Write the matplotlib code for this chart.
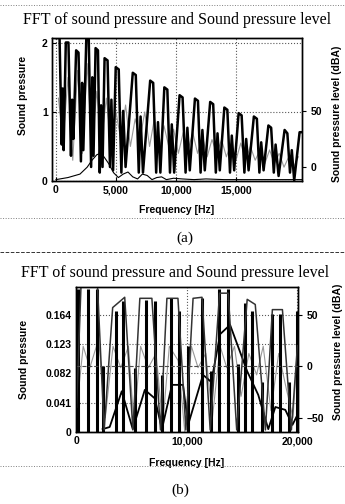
import matplotlib
matplotlib.use("Agg")
import matplotlib.pyplot as plt
from matplotlib.lines import Line2D

# ---------------- panel (a) ----------------
# sound pressure level humps (right axis, dBA)
spl_a_freq = [0, 300, 480, 560, 640, 820, 1040, 1250, 1350, 1450,
              1680, 1880, 2080, 2180, 2280, 2530, 2730, 2930, 3030, 3130,
              3300, 3500, 3650, 3760, 3880, 4050, 4300, 4500, 4620, 4760,
              4980, 5230, 5450, 5600, 5800, 6400, 6650, 6900, 7050, 7250,
              7850, 8100, 8350, 8500, 8700, 9030, 9280, 9500, 9650, 9850,
              10300, 10550, 10800, 10950, 11150, 11580, 11830, 12050, 12200, 12400,
              12850, 13100, 13320, 13460, 13650, 14030, 14280, 14500, 14650, 14850,
              15220, 15470, 15700, 15850, 16050, 16490, 16740, 16950, 17100, 17300,
              17700, 17930, 18150, 18300, 18550, 19050, 19280, 19500, 19650, 19850,
              20300, 20600]
spl_a_db = [115, 115, 20, 70, 15, 111, 111, 10, 60, 25,
            104, 102, 5, 75, 15, 115, 115, 0, 80, 10,
            106, 104, -5, 55, 0, 97, 95, 0, 60, -3,
            89, 87, -5, 50, 0, 84, 82, -5, 45, -5,
            77, 75, -5, 40, -5, 71, 69, -5, 38, -5,
            64, 62, -5, 35, -3, 61, 59, -5, 33, -3,
            58, 56, -5, 30, -3, 53, 51, -5, 28, -3,
            48, 46, -5, 25, -3, 45, 43, -5, 22, -3,
            37, 35, -5, 20, -8, 33, 30, -5, 15, -12,
            31, 31]

# inner fft trace (left axis)
gray_a_freq = [200, 600, 1000, 1400, 1800, 2200, 2600, 3000, 3400, 3800,
               4200, 4600, 5000, 5400, 5800, 6200, 6600, 7000, 7400, 7800,
               8200, 8600, 9000, 9400, 9800, 10200, 10600, 11000, 11400, 11800,
               12200, 12600, 13000, 13400, 13800, 14200, 14600, 15000, 15400, 15800,
               16200, 16600, 17000, 17400, 17800, 18200, 18600, 19000, 19400, 19800,
               20200]
gray_a_p = [1.2, 0.6, 1.5, 0.3, 1.6, 0.4, 1.7, 0.5, 1.3, 0.6,
            1.2, 0.5, 1.0, 0.6, 1.1, 0.5, 0.9, 0.6, 1.0, 0.5,
            0.9, 0.45, 0.8, 0.5, 0.75, 0.4, 0.7, 0.45, 0.7, 0.4,
            0.65, 0.35, 0.6, 0.4, 0.6, 0.35, 0.55, 0.3, 0.55, 0.3,
            0.5, 0.3, 0.45, 0.25, 0.45, 0.25, 0.4, 0.2, 0.35, 0.2,
            0.35]

# low decaying curve (left axis)
low_a_freq = [0, 1000, 2000, 2600, 3000, 3400, 3700, 4000, 4400, 4800,
              5200, 5600, 6000, 6400, 6800, 7200, 7600, 8000, 8400, 8800,
              9200, 9800, 10500, 11500, 12500, 14000, 15500, 17000, 18500, 20000, 20500]
low_a_p = [0.02, 0.05, 0.1, 0.2, 0.3, 0.38, 0.4, 0.35, 0.25, 0.12,
           0.05, 0.1, 0.13, 0.06, 0.03, 0.1, 0.08, 0.02, 0.05, 0.06,
           0.02, 0.04, 0.03, 0.02, 0.03, 0.02, 0.02, 0.02, 0.02, 0.02, 0.02]

a_xticks = [0, 5000, 10000, 15000]
a_xticklabels = ["0", "5,000", "10,000", "15,000"]
a_yticks = [0, 1, 2]
a_rticks = [0, 50]

# ---------------- panel (b) ----------------
spike_b_freq = [90, 1000, 1820, 2360, 3550, 4180, 5270, 6270, 7090, 7730,
                8550, 9300, 10100, 11360, 12180, 12900, 13700, 14600, 15270, 15900,
                16800, 17700, 18450, 19200, 19950]
spike_b_p = [0.2, 0.2, 0.2, 0.092, 0.17, 0.183, 0.09, 0.185, 0.183, 0.08,
             0.188, 0.17, 0.12, 0.188, 0.085, 0.2, 0.2, 0.095, 0.18, 0.17,
             0.07, 0.165, 0.165, 0.07, 0.17]

spl_b_freq = [0, 400, 700, 1300, 1900, 2500, 3270, 4360, 5100, 5730,
              6820, 7600, 8180, 9180, 9900, 10550, 11360, 12100, 12950, 13730,
              14500, 15450, 16180, 17100, 17730, 18640, 19450, 20000]
spl_b_db = [-40, 77, 77, 77, 77, -62, 57, 67, -62, 66,
            66, -62, 66, 66, -62, 66, 67, -62, 71, 71,
            -62, 65, 60, -62, 55, 55, -62, 20]

low_b_freq = [2360, 3000, 4090, 5090, 6180, 7090, 7730, 8640, 9640, 10100,
              11450, 12200, 13000, 13900, 15450, 16450, 17360, 18000, 18900, 19550, 20000]
low_b_p = [0.004, 0.007, 0.057, 0.004, 0.059, 0.047, 0.004, 0.066, 0.066, 0.01,
           0.08, 0.07, 0.137, 0.15, 0.085, 0.052, 0.004, 0.035, 0.031, 0.01, 0.024]

gray_b_freq = [0, 600, 1200, 2000, 2600, 3300, 4000, 4700, 5200, 5800,
               6500, 7200, 7800, 8400, 9200, 9800, 10400, 11000, 11700, 12300,
               13000, 13600, 14300, 14900, 15600, 16300, 16900, 17600, 18300, 19000,
               19600, 20000]
gray_b_p = [0.03, 0.12, 0.09, 0.13, 0.02, 0.12, 0.09, 0.12, 0.01, 0.12,
            0.09, 0.11, 0.01, 0.12, 0.1, 0.0, 0.12, 0.09, 0.11, 0.02,
            0.12, 0.09, 0.12, 0.05, 0.11, 0.08, 0.12, 0.03, 0.11, 0.06,
            0.02, 0.12]

b_xticks = [0, 10000, 20000]
b_xticklabels = ["0", "10,000", "20,000"]
b_yticks = [0, 0.041, 0.082, 0.123, 0.164]
b_yticklabels = ["0", "0.041", "0.082", "0.123", "0.164"]
b_rticks = [-50, 0, 50]

title = "FFT of sound pressure and Sound pressure level"

SANS = "Liberation Sans"
SERIF = "Liberation Serif"
W, H = 345.0, 504.0


def rect(left, top, right, bottom):
    # pixel box -> figure fraction
    return [left / W, 1 - bottom / H, (right - left) / W, (bottom - top) / H]


def style(ax, ax2):
    for a in (ax, ax2):
        a.tick_params(direction="in", length=3, width=0.8, labelsize=7.5,
                      pad=3)
        for lab in a.get_xticklabels() + a.get_yticklabels():
            lab.set_fontfamily(SANS)
            lab.set_fontweight("bold")
        for sp in a.spines.values():
            sp.set_linewidth(1.0)
    ax2.tick_params(axis="y", direction="out", length=3)


fig = plt.figure(figsize=(3.45, 5.04), dpi=100)

# ---- (a) ----
ax = fig.add_axes(rect(52, 38, 302, 181))
ax2 = ax.twinx()
ax.plot(gray_a_freq, gray_a_p, color="0.6", lw=0.8)
ax.plot(low_a_freq, low_a_p, color="black", lw=0.8)
ax2.plot(spl_a_freq, spl_a_db, color="black", lw=1.8)
ax.set_xlim(-330, 20500)
ax.set_ylim(0, 2.07)
ax2.set_ylim(-12.5, 115)
ax.set_xticks(a_xticks)
ax.set_xticklabels(a_xticklabels)
ax.set_yticks(a_yticks)
ax2.set_yticks(a_rticks)
ax.grid(True, linestyle=":", color="0.35", lw=0.8)
ax.set_xlabel("Frequency [Hz]", fontsize=7.5, fontfamily=SANS, fontweight="bold")
ax.xaxis.set_label_coords(0.5, -0.165)
ax.set_ylabel("Sound pressure", fontsize=7.5, fontfamily=SANS, fontweight="bold")
ax.yaxis.set_label_coords(-0.096, 0.6)
ax2.set_ylabel("Sound pressure level (dBA)", fontsize=7.5, fontfamily=SANS,
               fontweight="bold", rotation=90)
ax2.yaxis.set_label_coords(1.12, 0.47)
style(ax, ax2)
fig.text(177 / W, 1 - 20 / H, title, ha="center", va="center",
         fontsize=11.5, fontfamily=SERIF)
fig.text(185 / W, 1 - 238 / H, "(a)", ha="center", va="center",
         fontsize=11, fontfamily=SERIF)

# ---- (b) ----
bx = fig.add_axes(rect(76, 287, 298, 432))
bx2 = bx.twinx()
bx.plot(gray_b_freq, gray_b_p, color="0.6", lw=0.8)
bx2.plot(spl_b_freq, spl_b_db, color="0.2", lw=1.1)
bx.vlines(spike_b_freq, 0, spike_b_p, color="black", lw=2.2)
bx.plot(low_b_freq, low_b_p, color="black", lw=1.3)
bx.set_xlim(-50, 20050)
bx.set_ylim(0, 0.203)
bx2.set_ylim(-64, 77)
bx.set_xticks(b_xticks)
bx.set_xticklabels(b_xticklabels)
bx.set_yticks(b_yticks)
bx.set_yticklabels(b_yticklabels)
bx2.set_yticks(b_rticks)
bx.grid(True, linestyle=":", color="0.35", lw=0.8)
bx2.axhline(0, linestyle="--", color="0.3", lw=0.8)
bx.set_xlabel("Frequency [Hz]", fontsize=7.5, fontfamily=SANS, fontweight="bold")
bx.xaxis.set_label_coords(0.5, -0.18)
bx.set_ylabel("Sound pressure", fontsize=7.5, fontfamily=SANS, fontweight="bold")
bx.yaxis.set_label_coords(-0.21, 0.5)
bx2.set_ylabel("Sound pressure level (dBA)", fontsize=7.5, fontfamily=SANS,
               fontweight="bold", rotation=90)
bx2.yaxis.set_label_coords(1.157, 0.55)
style(bx, bx2)
fig.text(175 / W, 1 - 273 / H, title, ha="center", va="center",
         fontsize=11.5, fontfamily=SERIF)
fig.text(180 / W, 1 - 490 / H, "(b)", ha="center", va="center",
         fontsize=11, fontfamily=SERIF)

# scan frame lines
for y, ls, c in [(5, ":", "0.5"), (218, ":", "0.5"), (252, "--", "0.2"),
                 (466, ":", "0.5")]:
    fig.add_artist(Line2D([0, 1], [1 - y / H, 1 - y / H], transform=fig.transFigure,
                          linestyle=ls, color=c, lw=0.7))

fig.savefig("out.png", dpi=100)
